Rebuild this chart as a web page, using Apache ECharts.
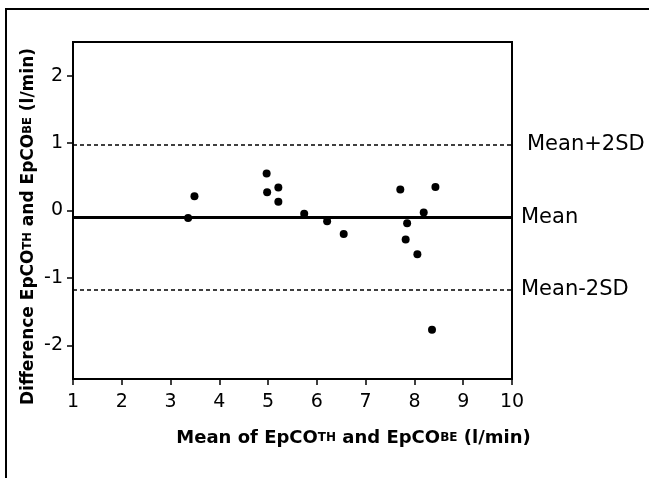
<!DOCTYPE html>
<html>
<head>
<meta charset="utf-8">
<script src="https://cdn.jsdelivr.net/npm/echarts@6/dist/echarts.min.js"></script>
<style>html,body{margin:0;padding:0;background:#fff;}#c{width:649px;height:478px;}</style>
</head>
<body>
<div id="c"></div>
<script>
// Bland-Altman data: mean (x) and difference (y)
const meanValues = [3.36, 3.49, 4.97, 4.98, 5.21, 5.21, 5.74, 6.21, 6.55, 7.71, 7.85, 7.82, 8.06, 8.19, 8.43, 8.36];
const diffValues = [-0.11, 0.21, 0.55, 0.27, 0.34, 0.13, -0.05, -0.16, -0.35, 0.31, -0.19, -0.43, -0.65, -0.03, 0.35, -1.77];
const meanDiff = -0.1;
const upperLimit = 0.98;
const lowerLimit = -1.17;
const refLabels = ['Mean+2SD', 'Mean', 'Mean-2SD'];
const xTicks = [1, 2, 3, 4, 5, 6, 7, 8, 9, 10];
const yTicks = [-2, -1, 0, 1, 2];

const points = meanValues.map((x, i) => [x, diffValues[i]]);
const font = 'DejaVu Sans';
const refLabel = (text, dist) => ({
  show: true, position: 'end', distance: dist, formatter: text,
  color: '#000', fontFamily: font, fontSize: 21
});

const chart = echarts.init(document.getElementById('c'), null, {renderer: 'canvas'});
chart.setOption({
  animation: false,
  backgroundColor: '#fff',
  grid: {left: 73, top: 42, width: 439, height: 337, show: true, borderColor: '#000', borderWidth: 2, backgroundColor: 'transparent'},
  graphic: [
    {type: 'line', shape: {x1: 5, y1: 9, x2: 649, y2: 9}, style: {stroke: '#000', lineWidth: 2}},
    {type: 'line', shape: {x1: 6, y1: 9, x2: 6, y2: 478}, style: {stroke: '#000', lineWidth: 2}}
  ],
  xAxis: {
    type: 'value', min: 1, max: 10, interval: 1,
    axisLine: {show: true, onZero: false, lineStyle: {color: '#000', width: 2}},
    axisTick: {show: true, length: 6, lineStyle: {color: '#000', width: 1.5}},
    axisLabel: {color: '#000', fontFamily: font, fontSize: 19, margin: 14, customValues: xTicks},
    splitLine: {show: false},
    name: '{a|Mean of EpCO}{s|TH}{a| and EpCO}{s|BE}{a| (l/min)}',
    nameLocation: 'middle', nameGap: 50, nameMoveOverlap: false,
    nameTextStyle: {
      padding: [0, 0, 0, 122],
      rich: {
        a: {fontFamily: font, fontWeight: 'bold', fontSize: 18, color: '#000'},
        s: {fontFamily: font, fontWeight: 'bold', fontSize: 12, color: '#000'}
      }
    }
  },
  yAxis: {
    type: 'value', min: -2.5, max: 2.5,
    axisLine: {show: true, onZero: false, lineStyle: {color: '#000', width: 2}},
    axisTick: {show: true, length: 6, lineStyle: {color: '#000', width: 1.5}, customValues: yTicks},
    axisLabel: {color: '#000', fontFamily: font, fontSize: 19, margin: 10, customValues: yTicks},
    splitLine: {show: false},
    name: '{a|Difference EpCO}{s|TH}{a| and EpCO}{s|BE}{a| (l/min)}',
    nameLocation: 'middle', nameGap: 36, nameRotate: 90, nameMoveOverlap: false,
    nameTextStyle: {
      padding: [0, 32, 0, 0],
      rich: {
        a: {fontFamily: font, fontWeight: 'bold', fontSize: 17, color: '#000'},
        s: {fontFamily: font, fontWeight: 'bold', fontSize: 11.5, color: '#000'}
      }
    }
  },
  series: [{
    type: 'scatter',
    data: points,
    symbol: 'circle', symbolSize: 8,
    itemStyle: {color: '#000', opacity: 1},
    markLine: {
      silent: true, symbol: 'none', animation: false,
      data: [
        {yAxis: upperLimit, lineStyle: {color: '#000', type: [4, 3], width: 1.5}, label: refLabel(refLabels[0], 15)},
        {yAxis: meanDiff, lineStyle: {color: '#000', type: 'solid', width: 3}, label: refLabel(refLabels[1], 9)},
        {yAxis: lowerLimit, lineStyle: {color: '#000', type: [4, 3], width: 1.5}, label: refLabel(refLabels[2], 9)}
      ]
    }
  }]
});
</script>
</body>
</html>
